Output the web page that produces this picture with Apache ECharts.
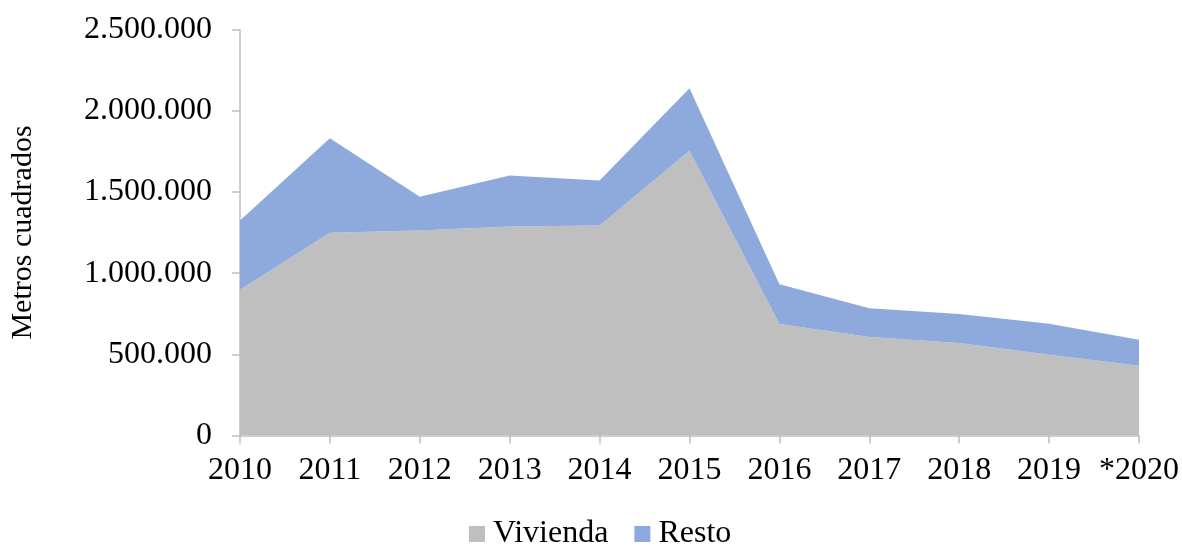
<!DOCTYPE html>
<html>
<head>
<meta charset="utf-8">
<script src="https://cdn.jsdelivr.net/npm/echarts@6/dist/echarts.min.js"></script>
<style>
  html, body { margin: 0; padding: 0; background: #fff; }
  #chart { width: 1182px; height: 546px; }
</style>
</head>
<body>
<div id="chart"></div>
<script>
var years = ['2010', '2011', '2012', '2013', '2014', '2015', '2016', '2017', '2018', '2019', '*2020'];
// metros cuadrados
var vivienda = [897000, 1248000, 1262000, 1287000, 1293000, 1753000, 686000, 606000, 569000, 497000, 429000];
var resto = [427000, 583000, 208000, 314000, 277000, 386000, 246000, 178000, 179000, 191000, 160000];

var chart = echarts.init(document.getElementById('chart'));

function fmt(v) {
  return String(v).replace(/\B(?=(\d{3})+(?!\d))/g, '.');
}

var font = '"Liberation Serif", "Times New Roman", serif';

var option = {
  animation: false,
  textStyle: { fontFamily: font },
  grid: { left: 240, right: 43, top: 29.5, bottom: 110.5, containLabel: false, outerBoundsMode: 'none' },
  legend: {
    bottom: -4,
    left: 469,
    padding: 0,
    itemWidth: 16,
    itemHeight: 16,
    itemGap: 26,
    icon: 'rect',
    textStyle: { fontFamily: font, fontSize: 32, color: '#000', padding: [0, 0, 0, 3] },
    data: ['Vivienda', 'Resto']
  },
  xAxis: {
    type: 'category',
    data: years,
    boundaryGap: false,
    axisLine: { lineStyle: { color: '#bfbfbf', width: 1.5 } },
    axisTick: { show: true, length: 8, interval: 0, lineStyle: { color: '#bfbfbf', width: 1.5 } },
    axisLabel: { color: '#000', fontSize: 32, fontFamily: font, margin: 19, interval: 0 }
  },
  yAxis: {
    type: 'value',
    min: 0,
    max: 2500000,
    interval: 500000,
    name: 'Metros cuadrados',
    nameLocation: 'middle',
    nameGap: 202,
    nameRotate: 90,
    nameTextStyle: { color: '#000', fontSize: 30, fontFamily: font },
    axisLine: { show: true, lineStyle: { color: '#bfbfbf', width: 1.5 } },
    axisTick: { show: true, length: 8, lineStyle: { color: '#bfbfbf', width: 1.5 } },
    splitLine: { show: false },
    axisLabel: { color: '#000', fontSize: 32, fontFamily: font, margin: 28, formatter: fmt }
  },
  series: [
    {
      name: 'Vivienda',
      type: 'line',
      stack: 'total',
      data: vivienda,
      symbol: 'none',
      lineStyle: { width: 0 },
      itemStyle: { color: '#bfbfbf' },
      areaStyle: { color: '#bfbfbf', opacity: 1 }
    },
    {
      name: 'Resto',
      type: 'line',
      stack: 'total',
      data: resto,
      symbol: 'none',
      lineStyle: { width: 0 },
      itemStyle: { color: '#8eaadc' },
      areaStyle: { color: '#8eaadc', opacity: 1 }
    }
  ]
};

chart.setOption(option);
</script>
</body>
</html>
